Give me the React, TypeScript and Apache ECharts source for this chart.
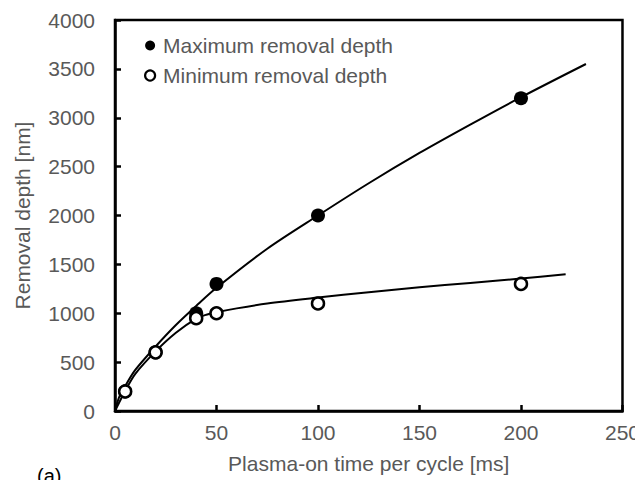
import React, { useEffect, useRef } from "react";
import * as echarts from "echarts";

// Measured points: plasma-on time per cycle [ms] vs removal depth [nm]
const timeMs = [5, 20, 40, 50, 100, 200];
const maxDepth = [200, 600, 1000, 1300, 2000, 3200];
const minDepth = [200, 600, 950, 1000, 1100, 1300];

// Fitted trend curves
const maxFitTime = [0, 2, 5, 10, 20, 30, 40, 50, 75, 100, 125, 150, 175, 200, 232];
const maxFitDepth = [0, 140, 255, 420, 660, 880, 1075, 1260, 1660, 2000, 2330, 2640, 2930, 3210, 3550];
const minFitTime = [0, 2, 5, 10, 20, 30, 40, 45, 50, 60, 75, 100, 125, 150, 175, 200, 222];
const minFitDepth = [0, 85, 205, 380, 610, 800, 945, 985, 1010, 1050, 1100, 1160, 1215, 1265, 1310, 1355, 1398];

const xTicks = [0, 50, 100, 150, 200, 250];
const yTicks = [0, 500, 1000, 1500, 2000, 2500, 3000, 3500, 4000];

const seriesNames = ["Maximum removal depth", "Minimum removal depth"];

const FONT = "Liberation Sans, Arial, sans-serif";
const TEXT = "#595959";
const FS = 21;

const zip = (xs: number[], ys: number[]) => xs.map((x, i) => [x, ys[i]]);

export default function App() {
  const ref = useRef<HTMLDivElement>(null);

  useEffect(() => {
    if (!ref.current) return;
    const chart = echarts.init(ref.current, undefined, { renderer: "svg" });
    const axisCommon = {
      axisLine: { show: true, lineStyle: { color: "#000", width: 2.5 } },
      axisTick: { show: true, inside: true, length: 6, lineStyle: { color: "#000", width: 2.5 } },
      splitLine: { show: false },
      nameTextStyle: { color: TEXT, fontSize: FS, fontFamily: FONT },
    };
    const label = { color: TEXT, fontSize: FS, fontFamily: FONT, formatter: (v: number) => String(v) };
    chart.setOption({
      animation: false,
      backgroundColor: "#fff",
      grid: {
        left: 115,
        top: 20,
        right: 20,
        bottom: 77,
        show: true,
        borderColor: "#000",
        borderWidth: 2.5,
      },
      legend: {
        orient: "vertical",
        left: 139,
        top: 30,
        itemWidth: 10,
        itemHeight: 10,
        itemGap: 9,
        textStyle: { color: TEXT, fontSize: FS, fontFamily: FONT, padding: [0, 0, 0, 3] },
        data: [
          { name: seriesNames[0], icon: "circle", itemStyle: { color: "#000", borderWidth: 0, opacity: 1 } },
          {
            name: seriesNames[1],
            icon: "circle",
            itemStyle: { color: "#fff", borderColor: "#000", borderWidth: 2.2, opacity: 1 },
          },
        ],
      },
      xAxis: {
        type: "value",
        min: xTicks[0],
        max: xTicks[xTicks.length - 1],
        interval: 50,
        name: "Plasma-on time per cycle [ms]",
        nameLocation: "middle",
        nameGap: 42,
        axisLabel: { ...label, margin: 11 },
        ...axisCommon,
      },
      yAxis: {
        type: "value",
        min: yTicks[0],
        max: yTicks[yTicks.length - 1],
        interval: 500,
        name: "Removal depth [nm]",
        nameLocation: "middle",
        nameGap: 82,
        axisLabel: { ...label, margin: 20 },
        ...axisCommon,
      },
      graphic: [
        {
          type: "text",
          left: 37,
          top: 466,
          style: { text: "(a)", fill: "#000", font: `20px ${FONT}` },
        },
      ],
      series: [
        {
          type: "line",
          name: "max-fit",
          data: zip(maxFitTime, maxFitDepth),
          smooth: 0.3,
          showSymbol: false,
          lineStyle: { color: "#000", width: 2 },
          z: 2,
          silent: true,
        },
        {
          type: "line",
          name: "min-fit",
          data: zip(minFitTime, minFitDepth),
          smooth: 0.3,
          showSymbol: false,
          lineStyle: { color: "#000", width: 2 },
          z: 2,
          silent: true,
        },
        {
          type: "scatter",
          name: seriesNames[0],
          data: zip(timeMs, maxDepth),
          symbol: "circle",
          symbolSize: 14,
          itemStyle: { color: "#000", opacity: 1 },
          z: 3,
        },
        {
          type: "scatter",
          name: seriesNames[1],
          data: zip(timeMs, minDepth),
          symbol: "circle",
          symbolSize: 12,
          itemStyle: { color: "#fff", borderColor: "#000", borderWidth: 2.5, opacity: 1 },
          z: 4,
        },
      ],
    });
    return () => chart.dispose();
  }, []);

  return <div ref={ref} style={{ width: 643, height: 488, margin: -8 }} />;
}
